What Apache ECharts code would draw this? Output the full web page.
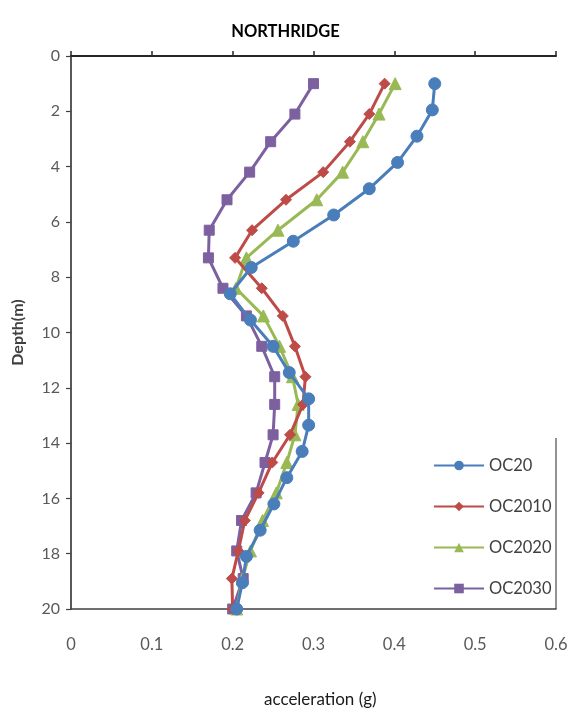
<!DOCTYPE html>
<html>
<head>
<meta charset="utf-8">
<script src="https://cdn.jsdelivr.net/npm/echarts@6/dist/echarts.min.js"></script>
<style>
  html, body { margin: 0; padding: 0; background: #fff; }
  #chart { width: 571px; height: 715px; }
</style>
</head>
<body>
<div id="chart"></div>
<script>
// Depth profiles of peak acceleration, Northridge record
const seriesNames = ['OC20', 'OC2010', 'OC2020', 'OC2030'];

// OC20 is sampled on its own set of depths (m)
const depthsOC20 = [1.0, 1.95, 2.9, 3.85, 4.8, 5.75, 6.7, 7.65, 8.6, 9.55, 10.5,
                    11.45, 12.4, 13.35, 14.3, 15.25, 16.2, 17.15, 18.1, 19.05, 20.0];
const accOC20 = [0.450, 0.447, 0.428, 0.404, 0.369, 0.325, 0.275, 0.223, 0.197, 0.222, 0.250,
                 0.270, 0.294, 0.294, 0.286, 0.267, 0.251, 0.234, 0.217, 0.212, 0.205];

// OC2010 / OC2020 / OC2030 share these depths (m)
const depthsOC = [1.0, 2.1, 3.1, 4.2, 5.2, 6.3, 7.3, 8.4, 9.4, 10.5,
                  11.6, 12.6, 13.7, 14.7, 15.8, 16.8, 17.9, 18.9, 20.0];
const accOC2010 = [0.388, 0.369, 0.345, 0.312, 0.266, 0.224, 0.203, 0.236, 0.262, 0.277,
                   0.290, 0.287, 0.271, 0.249, 0.232, 0.215, 0.207, 0.199, 0.200];
const accOC2020 = [0.401, 0.381, 0.361, 0.336, 0.304, 0.256, 0.217, 0.204, 0.238, 0.258,
                   0.274, 0.281, 0.277, 0.267, 0.254, 0.237, 0.222, 0.212, 0.205];
const accOC2030 = [0.300, 0.277, 0.247, 0.221, 0.193, 0.171, 0.170, 0.188, 0.217, 0.236,
                   0.252, 0.252, 0.250, 0.240, 0.229, 0.211, 0.205, 0.213, 0.200];

// Tick labels of the acceleration axis
const accTicks = ['0', '0.1', '0.2', '0.3', '0.4', '0.5', '0.6'];

const colors = ['#4A7EBB', '#BE4B48', '#98B954', '#7D60A0'];
const symbols = ['circle', 'diamond', 'triangle', 'rect'];
const symbolSizes = [12, 11, 12, 10];

function pairs(xs, ys) { return xs.map((x, i) => [x, ys[i]]); }

const seriesData = [
  pairs(accOC20, depthsOC20),
  pairs(accOC2010, depthsOC),
  pairs(accOC2020, depthsOC),
  pairs(accOC2030, depthsOC)
];

const FONT = 'Lato, "Open Sans", sans-serif';
const chart = echarts.init(document.getElementById('chart'), null, { renderer: 'canvas' });

chart.setOption({
  backgroundColor: '#ffffff',
  animation: false,
  title: [
    {
      text: 'NORTHRIDGE', left: 'center', top: 18,
      textStyle: { fontFamily: FONT, fontSize: 16.5, fontWeight: 'bold', color: '#000' }
    },
    {
      text: 'acceleration (g)', left: 259, top: 686,
      textStyle: { fontFamily: FONT, fontSize: 17, fontWeight: 'normal', color: '#1a1a1a' }
    }
  ],
  legend: {
    orient: 'vertical',
    left: 428, top: 452,
    itemWidth: 50, itemHeight: 12, itemGap: 24,
    data: seriesNames,
    textStyle: { fontFamily: FONT, fontSize: 16.5, color: '#404040', lineHeight: 16 }
  },
  graphic: [
    // right edge of the legend frame
    { type: 'line', shape: { x1: 556, y1: 438, x2: 556, y2: 609 },
      style: { stroke: '#6f6f6f', lineWidth: 1.5 } },
    // upper frame line of the plot area
    { type: 'line', z: 50, shape: { x1: 71, y1: 56, x2: 556, y2: 56 },
      style: { stroke: '#262626', lineWidth: 2 } }
  ],
  grid: { left: 71, top: 56, right: 15, bottom: 106 },
  xAxis: [
    {
      // bottom: plain line plus the tick labels
      type: 'value', min: 0, max: 0.6, interval: 0.1,
      axisLine: { show: true, onZero: false, lineStyle: { color: '#404040', width: 1.5 } },
      axisTick: { show: false },
      axisLabel: {
        margin: 27, fontFamily: FONT, fontSize: 16.5, color: '#595959',
        formatter: (v) => accTicks[Math.round(v * 10)]
      },
      splitLine: { show: false }
    },
    {
      // top: axis line with outward ticks; its labels are left transparent
      type: 'value', min: 0, max: 0.6, interval: 0.1,
      axisLine: { show: true, onZero: false, lineStyle: { color: '#262626', width: 2 } },
      axisTick: { show: true, length: 5, lineStyle: { color: '#262626', width: 1.5 } },
      axisLabel: { show: true, fontSize: 8, color: 'rgba(0,0,0,0)' },
      splitLine: { show: false }
    }
  ],
  yAxis: [
    {
      type: 'value', inverse: true, min: 0, max: 20, interval: 2,
      name: 'Depth(m)', nameLocation: 'middle', nameGap: 45,
      nameTextStyle: { fontFamily: FONT, fontSize: 16, fontWeight: 'bold', color: '#404040' },
      axisLine: { show: true, onZero: false, lineStyle: { color: '#595959', width: 2 } },
      axisTick: { show: true, length: 5, lineStyle: { color: '#404040', width: 1.2 } },
      axisLabel: { margin: 11, fontFamily: FONT, fontSize: 16, color: '#595959' },
      splitLine: { show: false }
    }
  ],
  series: seriesNames.map((name, i) => ({
    name: name,
    type: 'line',
    // OC20 sits on the top axis (same scale) so that axis gets drawn
    xAxisIndex: i === 0 ? 1 : 0,
    yAxisIndex: 0,
    data: seriesData[i],
    symbol: symbols[i],
    symbolSize: symbolSizes[i],
    showSymbol: true,
    lineStyle: { color: colors[i], width: 3 },
    itemStyle: { color: colors[i], borderColor: colors[i] },
    z: 10 - i
  }))
});
</script>
</body>
</html>
